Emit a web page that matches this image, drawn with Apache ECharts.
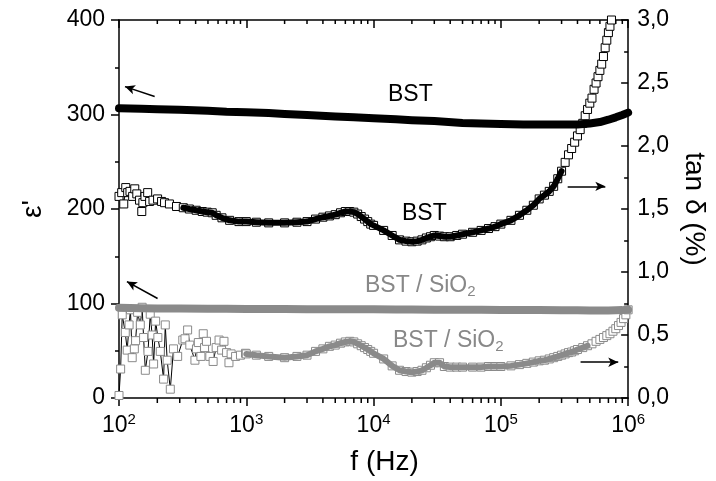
<!DOCTYPE html>
<html>
<head>
<meta charset="utf-8">
<script src="https://cdn.jsdelivr.net/npm/echarts@6/dist/echarts.min.js"></script>
<style>html,body{margin:0;padding:0;background:#fff}#c{width:716px;height:481px}</style>
</head>
<body>
<div id="c"></div>
<script>
// ---- data ----
const freqEps = [100,150,200,300,500,700,1e3,1.5e3,2e3,3e3,5e3,7e3,1e4,1.5e4,2e4,3e4,5e4,7e4,1e5,1.5e5,2e5,3e5,4e5,5e5,6e5,7e5,8e5,9e5,1e6];
const epsBST = [306.5,306,305.5,305,304,303,302.5,301.5,300.5,299.5,298,297,296,295,294,293,291,290.5,290,289.5,289.5,289.5,289.5,290.5,292,294.5,297,299.5,302];
const epsSiO2 = [95.5,95,94.8,94.6,94.5,94.4,94.3,94.2,94.1,94,93.9,93.8,93.8,93.7,93.6,93.5,93.4,93.3,93.2,93.1,93,92.9,92.8,92.7,92.7,92.7,92.8,93,93.5];

const freqTanBST = [100,105,109,113,117,122,128,133,138,145,151,154,160,168,174,185,201,216,228,249,283,320,357,404,451,493,540,580,644,740,875,
  1000,1200,1500,2000,2500,3000,3500,4000,4500,5000,5500,6000,6500,7000,7500,8000,8500,9000,9500,
  10000,12000,14000,16000,18000,20000,22000,24000,26000,28000,30000,33000,36000,40000,45000,50000,60000,70000,80000,90000,
  100000,120000,140000,160000,180000,200000,220000,240000,260000,280000,
  300000,320000,340000,360000,380000,400000,420000,440000,460000,480000,500000,520000,540000,560000,580000,600000,620000,640000,660000,680000,700000,720000,740000];
const tanBST = [1.60,1.63,1.54,1.67,1.63,1.64,1.60,1.66,1.62,1.57,1.48,1.55,1.60,1.63,1.56,1.57,1.58,1.56,1.55,1.54,1.52,1.51,1.50,1.49,1.48,1.475,1.47,1.45,1.43,1.41,1.40,
  1.40,1.395,1.39,1.39,1.395,1.40,1.42,1.435,1.445,1.455,1.47,1.48,1.48,1.475,1.46,1.44,1.42,1.40,1.38,
  1.37,1.33,1.29,1.255,1.245,1.24,1.245,1.255,1.27,1.28,1.29,1.285,1.28,1.28,1.29,1.30,1.315,1.33,1.345,1.36,
  1.38,1.41,1.45,1.49,1.53,1.58,1.61,1.64,1.68,1.74,
  1.80,1.87,1.93,1.98,2.03,2.08,2.13,2.18,2.24,2.29,2.34,2.38,2.45,2.50,2.55,2.60,2.65,2.71,2.78,2.84,2.90,2.95,3.00];

const freqTanSiO2 = [100,103,106,112,116,120,123,127,132,135,140,147,152,156,161,169,176,182,187,194,202,211,224,231,239,253,268,289,317,330,346,360,395,406,420,440,459,470,487,517,549,580,611,640,668,700,731,760,824,900,986,
  1000,1200,1500,2000,2500,3000,3500,4000,4500,5000,5500,6000,6500,7000,7500,8000,8500,9000,9500,
  10000,12000,14000,16000,18000,20000,22000,24000,26000,28000,30000,33000,36000,40000,45000,50000,60000,70000,80000,90000,
  100000,120000,140000,160000,180000,200000,220000,240000,260000,280000,300000,320000,340000,360000,380000,400000,440000,480000,520000,560000,600000,640000,680000,720000,760000,800000,840000,880000,920000,960000,1000000];
const tanSiO2 = [0.02,0.23,0.66,0.52,0.38,0.58,0.70,0.32,0.39,0.455,0.68,0.58,0.72,0.48,0.22,0.37,0.665,0.50,0.27,0.61,0.48,0.37,0.15,0.58,0.30,0.07,0.39,0.33,0.46,0.47,0.54,0.42,0.30,0.39,0.44,0.33,0.51,0.40,0.45,0.33,0.29,0.40,0.46,0.38,0.45,0.36,0.28,0.35,0.33,0.34,0.355,
  0.35,0.34,0.33,0.32,0.33,0.34,0.37,0.39,0.41,0.42,0.435,0.445,0.45,0.445,0.43,0.415,0.40,0.385,0.37,
  0.355,0.31,0.255,0.22,0.21,0.205,0.21,0.22,0.24,0.26,0.28,0.28,0.25,0.245,0.245,0.245,0.245,0.245,0.25,0.25,
  0.25,0.255,0.265,0.275,0.285,0.295,0.30,0.31,0.32,0.33,0.34,0.35,0.36,0.365,0.375,0.385,0.40,0.415,0.43,0.45,0.465,0.48,0.495,0.51,0.53,0.55,0.575,0.60,0.63,0.66,0.70];

const minorFreq = [200,300,400,500,600,700,800,900,2000,3000,4000,5000,6000,7000,8000,9000,
  20000,30000,40000,50000,60000,70000,80000,90000,200000,300000,400000,500000,600000,700000,800000,900000];

// arrows (tail -> head) in data units
const arrowsEps = [[[190.6,319],[111.4,329.5]],[[201,105.3],[115.4,123.2]]];
const arrowsTan = [[[3.35e5,1.68],[6.62e5,1.68]],[[4.23e5,0.284],[8.36e5,0.284]]];

const labels = [
  {text:'BST', x:388, y:83, color:'#000', sub:''},
  {text:'BST', x:402, y:202, color:'#000', sub:''},
  {text:'BST / SiO', x:365, y:274, color:'#888', sub:'2'},
  {text:'BST / SiO', x:393, y:329, color:'#888', sub:'2'}
];

// ---- build ----
const FONT = '"Liberation Sans", Arial, sans-serif';
const GRAY = '#8a8a8a';
const zip = (xs, ys) => xs.map((x, i) => [x, ys[i]]);
const within = (pts, lo, hi) => pts.filter(p => p[0] >= lo && p[0] <= hi);

const ptsEpsBST = zip(freqEps, epsBST);
const ptsEpsSiO2 = zip(freqEps, epsSiO2);
const ptsTanBST = zip(freqTanBST, tanBST);
const ptsTanSiO2 = zip(freqTanSiO2, tanSiO2);

function band(data, color, width, yi, z) {
  return {type:'line', data, yAxisIndex: yi, showSymbol:false, symbol:'none', z,
    lineStyle:{color, width, cap:'round', join:'round'}};
}
function squares(data, color, yi, z) {
  return {type:'line', data, yAxisIndex: yi, symbol:'rect', symbolSize:8, showAllSymbol:true, z,
    itemStyle:{color:'#fff', borderColor:color, borderWidth:1},
    lineStyle:{color:'#000', width:1}};
}
function arrowMark(list) {
  return {silent:true, symbol:['none','arrow'], symbolSize:[7,10], label:{show:false},
    lineStyle:{color:'#000', width:1.5, type:'solid'},
    data: list.map(a => [{coord:a[0]},{coord:a[1]}])};
}

const chart = echarts.init(document.getElementById('c'), null, {renderer:'canvas'});

const sEps = band(ptsEpsBST, '#000', 8, 0, 3);
sEps.markLine = arrowMark(arrowsEps);
const sTanSq = squares(ptsTanBST, '#000', 1, 2);
sTanSq.markLine = arrowMark(arrowsTan);

chart.setOption({
  animation:false,
  grid:{left:119, right:83, top:20, bottom:81},
  xAxis:[
    {type:'log', logBase:10, min:100, max:1e6, position:'bottom', splitLine:{show:false},
      axisLine:{lineStyle:{color:'#000', width:1.5}},
      axisTick:{show:true, length:8, lineStyle:{color:'#000', width:1.5}},
      axisLabel:{margin:14, color:'#000', fontFamily:FONT,
        formatter: v => '{b|10}{s|' + Math.round(Math.log10(v)) + '}',
        rich:{b:{fontSize:23, fontFamily:FONT, color:'#000', verticalAlign:'bottom'},
              s:{fontSize:15, fontFamily:FONT, color:'#000', verticalAlign:'bottom', padding:[0,0,10,0]}}},
      name:'f (Hz)', nameLocation:'middle', nameGap:50,
      nameTextStyle:{fontSize:28, fontFamily:FONT, color:'#000', padding:[0,0,0,22]}},
    {type:'log', logBase:10, min:100, max:1e6, position:'top', splitLine:{show:false},
      axisLine:{onZero:false, lineStyle:{color:'#000', width:1.5}},
      axisTick:{show:true, inside:true, length:8, lineStyle:{color:'#000', width:1.5}},
      axisLabel:{show:false}}
  ],
  yAxis:[
    {type:'value', min:0, max:400, interval:100, position:'left',
      axisLine:{show:true, lineStyle:{color:'#000', width:1.5}},
      axisTick:{show:true, inside:false, length:8, lineStyle:{color:'#000', width:1.5}},
      minorTick:{show:true, splitNumber:2, length:4, lineStyle:{color:'#000', width:1.5}},
      splitLine:{show:false},
      axisLabel:{margin:14, fontSize:23, fontFamily:FONT, color:'#000'},
      name:"ε'", nameLocation:'middle', nameGap:72, nameRotate:90,
      nameTextStyle:{fontSize:28, fontFamily:FONT, color:'#000'}},
    {type:'value', min:0, max:3, interval:0.5, position:'right',
      axisLine:{show:true, lineStyle:{color:'#000', width:1.5}},
      axisTick:{show:true, inside:true, length:7, lineStyle:{color:'#000', width:1.5}},
      minorTick:{show:true, splitNumber:2, length:4, lineStyle:{color:'#000', width:1.5}},
      splitLine:{show:false},
      axisLabel:{margin:9, fontSize:23, fontFamily:FONT, color:'#000',
        formatter: v => v.toFixed(1).replace('.', ',')},
      name:'tan δ (%)', nameLocation:'middle', nameGap:45, nameRotate:-90,
      nameTextStyle:{fontSize:28, fontFamily:FONT, color:'#000'}}
  ],
  series:[
    squares(ptsTanSiO2, GRAY, 1, 2),
    band(within(ptsTanSiO2, 1000, 5e5), GRAY, 6, 1, 3),
    sTanSq,
    band(within(ptsTanBST, 300, 3e5), '#000', 6, 1, 3),
    band(ptsEpsSiO2, GRAY, 8, 0, 3),
    sEps
  ]
});

// annotation texts and log minor ticks (2..9 per decade) placed through the axis scale
const textGraphics = labels.map(l => ({type:'text', left:l.x, top:l.y,
  style:{text: l.sub ? '{a|' + l.text + '}{b|' + l.sub + '}' : '{a|' + l.text + '}',
    rich:{a:{fontSize:23, fontFamily:FONT, fill:l.color},
          b:{fontSize:15, fontFamily:FONT, fill:l.color, verticalAlign:'top', padding:[12,0,0,0]}}}}));
const tickGraphics = [];
minorFreq.forEach(f => {
  const b = chart.convertToPixel({xAxisIndex:0, yAxisIndex:0}, [f, 0]);
  const t = chart.convertToPixel({xAxisIndex:1, yAxisIndex:0}, [f, 400]);
  tickGraphics.push({type:'line', shape:{x1:b[0], y1:b[1], x2:b[0], y2:b[1] + 5}, style:{stroke:'#000', lineWidth:1.5}});
  tickGraphics.push({type:'line', shape:{x1:t[0], y1:t[1], x2:t[0], y2:t[1] + 4}, style:{stroke:'#000', lineWidth:1.5}});
});
chart.setOption({graphic: tickGraphics.concat(textGraphics)});
</script>
</body>
</html>
